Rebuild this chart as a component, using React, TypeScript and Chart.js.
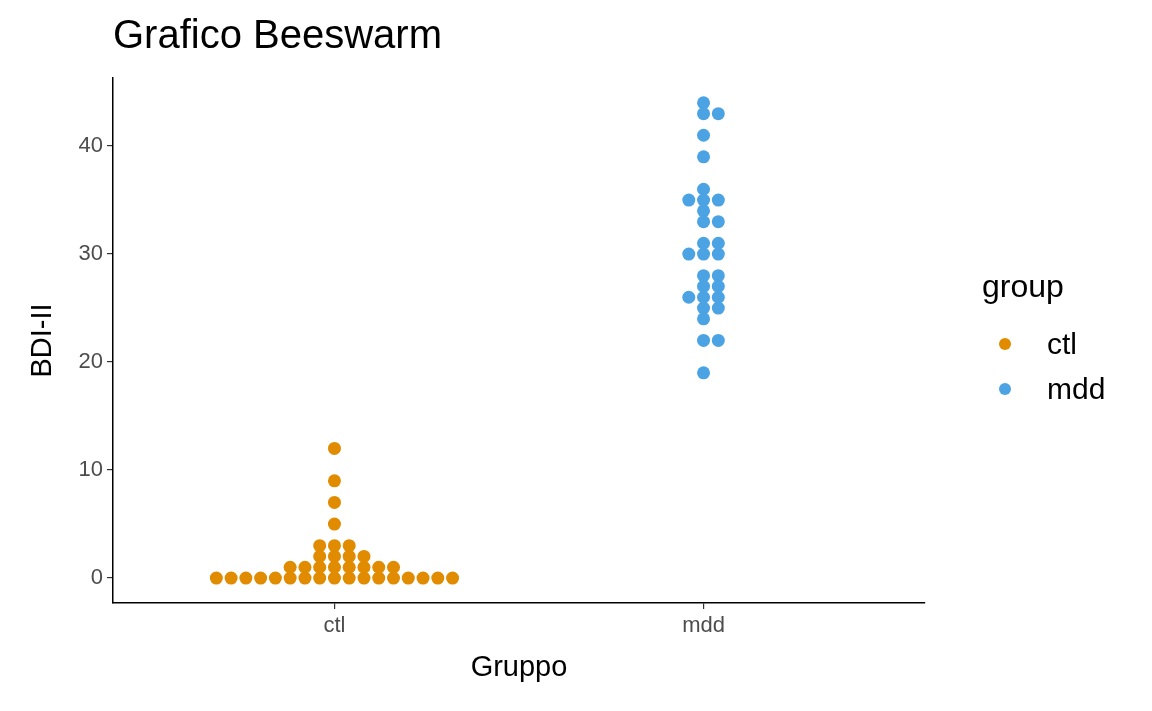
import React, { useEffect, useRef } from 'react';
import { Chart, registerables } from 'chart.js';

Chart.register(...registerables);

const groups = ['ctl', 'mdd'];
const colors = ['#E08B00', '#4BA3E3'];
// BDI-II scores and beeswarm column index for each point
const ctlValues = [0, 0, 0, 0, 0, 0, 1, 0, 1, 0, 1, 2, 3, 0, 1, 2, 3, 5, 7, 9, 12, 0, 1, 2, 3, 0, 1, 2, 0, 1, 0, 1, 0, 0, 0, 0];
const ctlCols = [-8, -7, -6, -5, -4, -3, -3, -2, -2, -1, -1, -1, -1, 0, 0, 0, 0, 0, 0, 0, 0, 1, 1, 1, 1, 2, 2, 2, 3, 3, 4, 4, 5, 6, 7, 8];
const mddValues = [44, 43, 41, 39, 36, 35, 34, 33, 31, 30, 28, 27, 26, 25, 24, 22, 19, 43, 35, 33, 31, 30, 28, 27, 26, 25, 22, 35, 30, 26];
const mddCols = [0, 0, 0, 0, 0, 0, 0, 0, 0, 0, 0, 0, 0, 0, 0, 0, 0, 1, 1, 1, 1, 1, 1, 1, 1, 1, 1, -1, -1, -1];
const yTicks = [0, 10, 20, 30, 40];
const colStep = 0.04;

const App: React.FC = () => {
  const canvasRef = useRef<HTMLCanvasElement | null>(null);

  useEffect(() => {
    const ctx = canvasRef.current?.getContext('2d');
    if (!ctx) return;
    const toPoints = (vals: number[], cols: number[], g: number) =>
      vals.map((v, i) => ({ x: g + cols[i] * colStep, y: v }));
    const grid = { display: true, drawOnChartArea: false, drawTicks: true, tickLength: 6, tickColor: '#333', lineWidth: 1.2 };
    const chart = new Chart(ctx, {
      type: 'scatter',
      data: {
        datasets: [
          { label: 'ctl', data: toPoints(ctlValues, ctlCols, 1), backgroundColor: colors[0], borderWidth: 0, pointRadius: 6.5 },
          { label: 'mdd', data: toPoints(mddValues, mddCols, 2), backgroundColor: colors[1], borderWidth: 0, pointRadius: 6.5 },
        ],
      },
      options: {
        animation: false,
        responsive: false,
        layout: { padding: { left: 22, right: 227, top: 78, bottom: 22 } },
        plugins: { legend: { display: false }, tooltip: { enabled: false } },
        scales: {
          x: {
            type: 'linear', min: 0.4, max: 2.6,
            afterBuildTicks: (s: any) => { s.ticks = [{ value: 1 }, { value: 2 }]; },
            afterFit: (s: any) => { s.height = 86; },
            grid,
            border: { color: '#000', width: 1.5 },
            ticks: { color: '#4d4d4d', font: { family: 'Liberation Sans', size: 22 }, padding: 4,
              callback: (v: any) => groups[Number(v) - 1] ?? '' },
            title: { display: true, text: 'Gruppo', color: '#000', font: { family: 'Liberation Sans', size: 29 }, padding: { top: 6 } },
          },
          y: {
            min: -2.31, max: 46.3,
            afterBuildTicks: (s: any) => { s.ticks = yTicks.map((v) => ({ value: v })); },
            afterFit: (s: any) => { s.width = 91; },
            grid,
            border: { color: '#000', width: 1.5 },
            ticks: { color: '#4d4d4d', font: { family: 'Liberation Sans', size: 22 }, padding: 4 },
            title: { display: true, text: 'BDI-II', color: '#000', font: { family: 'Liberation Sans', size: 29 }, padding: { bottom: 4 } },
          },
        },
      },
    });
    return () => chart.destroy();
  }, []);

  return (
    <div style={{ position: 'absolute', left: 0, top: 0, width: 1152, height: 711, background: '#fff', fontFamily: 'Liberation Sans' }}>
      <canvas ref={canvasRef} width={1152} height={711} />
      <div style={{ position: 'absolute', left: 113, top: 12, fontSize: 40 }}>Grafico Beeswarm</div>
      <div style={{ position: 'absolute', left: 982, top: 268, fontSize: 32 }}>group</div>
      {groups.map((g, i) => (
        <div key={g} style={{ position: 'absolute', left: 999, top: 327 + i * 45, display: 'flex', alignItems: 'center' }}>
          <span style={{ width: 12, height: 12, borderRadius: 6, background: colors[i], display: 'inline-block' }} />
          <span style={{ marginLeft: 36, fontSize: 30 }}>{g}</span>
        </div>
      ))}
    </div>
  );
};

export default App;
